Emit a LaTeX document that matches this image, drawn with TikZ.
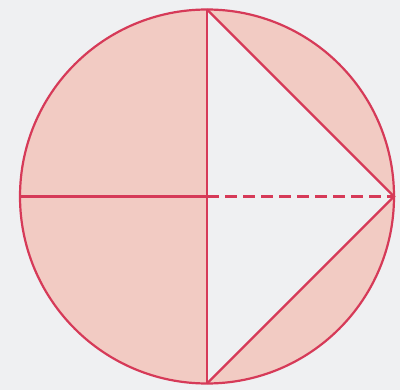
\documentclass[tikz,border=0pt]{standalone}
\begin{document}
\begin{tikzpicture}[x=1pt,y=-1pt,
  edge/.style={draw=strokered,line width=2.2pt},
  shade/.style={fill=fillpink}]
\definecolor{strokered}{HTML}{D63A58}
\definecolor{fillpink}{HTML}{F2CBC3}
\definecolor{bg}{HTML}{EFF0F2}
\fill[bg] (0,0) rectangle (400,390);
\useasboundingbox (0,0) rectangle (400,390);
\coordinate (O) at (207,196.5);
\coordinate (T) at (207,9.5);
\coordinate (B) at (207,383.5);
\coordinate (R) at (394,196.5);
\coordinate (L) at (20,196.5);
\fill[shade] (O) circle[radius=187];
\fill[bg] (T) -- (R) -- (B) -- cycle;
\draw[edge] (O) circle[radius=187];
\draw[edge] (T) -- (B);
\draw[edge] (T) -- (R) -- (B);
\draw[edge] (L) -- (O);
\draw[edge,dash pattern=on 12pt off 6pt] (O) -- (R);
\end{tikzpicture}
\end{document}
